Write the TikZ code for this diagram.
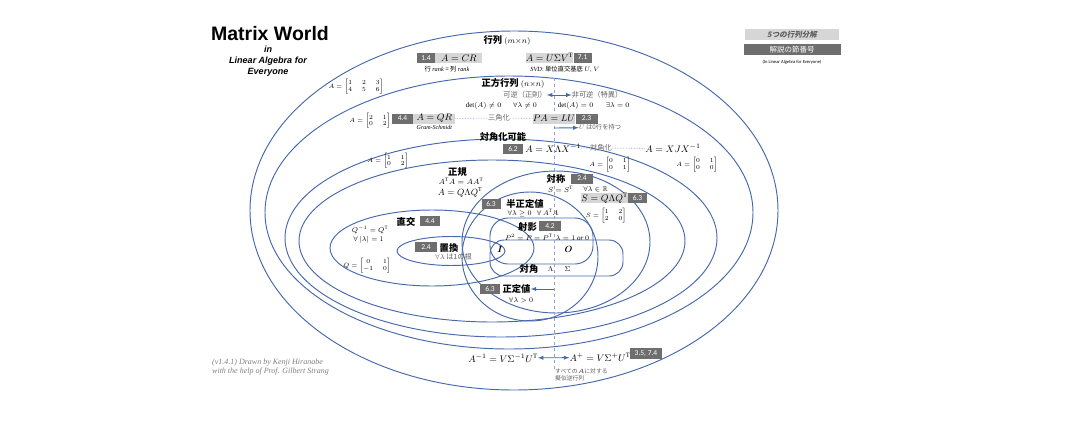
\RequirePackage{fix-cm}
\documentclass[tikz,border=0pt]{standalone}
\usepackage{amsmath}
\usepackage{amssymb}
\usepackage{fontspec}
\setmainfont{Liberation Serif}
\setsansfont{Carlito}
\newfontfamily\cjk{Noto Sans CJK JP}
\newfontfamily\cjkslant[FakeSlant=0.2]{Noto Sans CJK JP}
\newfontfamily\titlefont{Liberation Sans}
\usepackage{tikz}
\usetikzlibrary{positioning,calc}

\definecolor{zoneblue}{RGB}{72,104,172}
\definecolor{numgray}{RGB}{110,110,110}
\definecolor{eqgray}{RGB}{214,214,214}
\definecolor{notegray}{RGB}{95,95,95}

\begin{document}
\begin{tikzpicture}[x=1pt, y=-1pt,
  zone/.style={draw=zoneblue, line width=0.95pt},
  numbox/.style={fill=numgray, text=white, font=\sffamily\fontsize{7.5}{8}\selectfont, inner sep=0pt, minimum width=19pt, minimum height=10pt},
  eqbox/.style={fill=eqgray, inner sep=0pt, minimum height=10pt, font=\fontsize{9.5}{10}\selectfont},
  ttl/.style={font=\cjk\bfseries\fontsize{9.3}{10}\selectfont, inner sep=0pt},
  note/.style={font=\cjk\fontsize{7.2}{8}\selectfont, text=notegray, inner sep=0pt},
  mth/.style={font=\fontsize{7}{8}\selectfont, inner sep=0pt},
  bigmth/.style={font=\fontsize{9.5}{10}\selectfont, inner sep=0pt},
  dotline/.style={zoneblue!70, densely dotted, line width=0.6pt},
  divline/.style={zoneblue!60, dashed, line width=0.5pt},
  link/.style={zoneblue, line width=0.9pt}]
\useasboundingbox (0,0) rectangle (1080,426);

% nested zones
\draw[zone] (514,210.5) ellipse [x radius=264pt, y radius=179.5pt];
\draw[zone] (509,212.5) ellipse [x radius=244pt, y radius=136.5pt];
\draw[zone] (501,238) ellipse [x radius=216pt, y radius=99pt];
\draw[zone] (492,241) ellipse [x radius=193pt, y radius=81pt];
\draw[zone] (556,242) ellipse [x radius=94pt, y radius=71pt];
\draw[zone] (530,256.5) ellipse [x radius=68pt, y radius=64.5pt];
\draw[zone] (432,248) ellipse [x radius=102pt, y radius=38pt];
\draw[zone] (451,251) ellipse [x radius=54pt, y radius=14.5pt];
\draw[zone, rounded corners=18pt] (490,218) rectangle (593,264);
\draw[zone, rounded corners=14pt] (490,240) rectangle (623,276);

% invertible / singular divider
\coordinate (divtop) at (554,78);
\coordinate (divbot) at (554,370);
\draw[divline] (divtop) -- (divbot);

% title and legend
\node[font=\titlefont\bfseries\fontsize{19.5}{20}\selectfont, inner sep=0pt] (title) at (270,34) {Matrix World};
\node[font=\titlefont\bfseries\itshape\fontsize{9}{11}\selectfont, align=center, inner sep=0pt] (subtitle) at (268,61) {in\\Linear Algebra for\\Everyone};
\node[fill=eqgray, minimum width=94pt, minimum height=11pt, inner sep=0pt, font=\cjkslant\bfseries\fontsize{7.5}{8}\selectfont, text=notegray] (legA) at (792,34.5) {5つの行列分解};
\node[numbox, minimum width=97pt, minimum height=11pt, font=\cjk\fontsize{7.5}{8}\selectfont, below=3.5pt of legA] (legB) {解説の節番号};
\node[font=\sffamily\fontsize{4.6}{5}\selectfont, inner sep=0pt, below=5pt of legB] (legC) {(In Linear Algebra for Everyone)};

% all matrices
\node[ttl] (mat) at (507,41) {行列 {\fontsize{8}{8}\selectfont$(m{\times}n)$}};
\node[numbox, minimum width=18pt] (n14) at (426,58) {1.4};
\node[eqbox, minimum width=47pt, right=0pt of n14] (eqCR) {$A = CR$};
\node[note, text=black, font=\cjk\fontsize{6.3}{7}\selectfont] (rank) at (447,69.5) {行 $\mathit{rank}$ = 列 $\mathit{rank}$};
\node[eqbox, minimum width=45pt] (eqSVD) at (549.5,57.5) {$A = U\Sigma V^{\mathrm{T}}$};
\node[numbox, minimum width=18pt, right=0pt of eqSVD] (n71) {7.1};
\node[note, text=black, font=\cjk\fontsize{6.3}{7}\selectfont] (svd) at (565,69.5) {{\rmfamily\itshape SVD}: 単位直交基底 $U,V$};
\node[mth, font=\fontsize{6.2}{6.6}\selectfont] (m23) at (356,86.5) {$A=\begin{bmatrix}1&2&3\\4&5&6\end{bmatrix}$};

% square matrices
\node[ttl] (sq) at (513,83.5) {正方行列 {\fontsize{8}{8}\selectfont$(n{\times}n)$}};
\node[note] (inv) at (525,95) {可逆（正則）};
\node[note] (sing) at (597,95) {非可逆（特異）};
\draw[link, latex-latex] (inv) -- (sing);
\node[mth] (detn) at (483.5,105.5) {$\det(A)\neq0$};
\node[mth] (lamn) at (525,105.5) {$\forall\lambda\neq0$};
\node[mth] (detz) at (575.5,105.5) {$\det(A)=0$};
\node[mth] (lamz) at (617.5,105.5) {$\exists\lambda=0$};
\node[numbox, minimum width=21pt] (n44a) at (402.5,118.5) {4.4};
\node[eqbox, minimum width=42pt, right=0pt of n44a] (eqQR) {$A = QR$};
\node[mth, font=\rmfamily\itshape\fontsize{6}{7}\selectfont, below=1.5pt of eqQR] (gram) {Gram-Schmidt};
\node[note] (tri) at (499,118) {三角化};
\node[eqbox, minimum width=40pt] (eqLU) at (554,118.5) {$PA = LU$};
\node[numbox, minimum width=22pt, right=0pt of eqLU] (n23) {2.3};
\draw[dotline] (eqQR) -- (tri);
\draw[dotline] (tri) -- (eqLU);
\node[mth, font=\fontsize{6.2}{6.6}\selectfont] (m2102) at (370,121) {$A=\begin{bmatrix}2&1\\0&2\end{bmatrix}$};
\coordinate (zrowtail) at (554,128);
\node[note, font=\cjk\fontsize{6.3}{7}\selectfont] (zrow) at (600,127.5) {$U$ は0行を持つ};
\draw[link, -latex] (zrowtail) -- (zrow);

% diagonalizable
\node[ttl] (dgz) at (503,137) {対角化可能};
\node[numbox, minimum width=20pt] (n62) at (513,148.5) {6.2};
\node[bigmth, right=2pt of n62] (eqXLX) {$A = X\Lambda X^{-1}$};
\node[note] (dgzn) at (601,148) {対角化};
\node[bigmth] (eqXJX) at (673,148.5) {$A = XJX^{-1}$};
\draw[dotline] (eqXLX) -- (dgzn);
\draw[dotline] (dgzn) -- (eqXJX);
\node[mth, font=\fontsize{6.2}{6.6}\selectfont] (m1102) at (388,161) {$A=\begin{bmatrix}1&1\\0&2\end{bmatrix}$};
\node[mth, font=\fontsize{6.2}{6.6}\selectfont] (m0101) at (610,164.5) {$A=\begin{bmatrix}0&1\\0&1\end{bmatrix}$};
\node[mth, font=\fontsize{6.2}{6.6}\selectfont] (m0100) at (697,164.5) {$A=\begin{bmatrix}0&1\\0&0\end{bmatrix}$};

% normal
\node[ttl] (nrm) at (457.5,172) {正規};
\node[mth, font=\fontsize{7.5}{8}\selectfont] (nrmeq) at (461,181.5) {$A^{\mathrm{T}}A = AA^{\mathrm{T}}$};
\node[mth, font=\fontsize{9}{10}\selectfont] (nrmQ) at (460,192.5) {$A = Q\Lambda Q^{\mathrm{T}}$};

% symmetric
\node[ttl] (sym) at (556,179) {対称};
\node[numbox, minimum width=22pt] (n24a) at (582,178.5) {2.4};
\node[mth] (symeq) at (560.5,189) {$S = S^{\mathrm{T}}$};
\node[mth] (symlam) at (595.5,189) {$\forall\lambda\in\mathbb{R}$};
\node[eqbox, minimum width=45pt] (eqQLQ) at (604.5,198) {$S = Q\Lambda Q^{\mathrm{T}}$};
\node[numbox, right=0pt of eqQLQ] (n63a) {6.3};
\node[mth, font=\fontsize{6.2}{6.6}\selectfont] (m1220) at (606,215.5) {$S=\begin{bmatrix}1&2\\2&0\end{bmatrix}$};

% positive semidefinite
\node[numbox] (n63b) at (491,203.5) {6.3};
\node[ttl] (psd) at (525,204) {半正定値};
\node[mth] (psdeq) at (533,213) {$\forall\lambda\geq0\ \ \ \forall\,A^{\mathrm{T}}A$};

% orthogonal and permutation
\node[ttl] (orth) at (406,221.5) {直交};
\node[numbox, minimum width=20pt] (n44b) at (430,221) {4.4};
\node[mth] (orthinv) at (370,230) {$Q^{-1} = Q^{\mathrm{T}}$};
\node[mth] (orthlam) at (368.5,240) {$\forall\ |\lambda| = 1$};
\node[mth, font=\fontsize{6.2}{6.6}\selectfont] (m0110) at (367,265.5) {$Q=\begin{bmatrix}0&1\\-1&0\end{bmatrix}$};
\node[numbox, minimum width=22pt] (n24b) at (426,247) {2.4};
\node[ttl] (perm) at (449,247.5) {置換};
\node[note] (permlam) at (453.5,257) {$\forall\lambda$ は1の根};

% projection and diagonal
\node[ttl] (proj) at (527.5,226.5) {射影};
\node[numbox, minimum width=22pt] (n42) at (550,226) {4.2};
\node[mth] (projeq) at (547,237) {$P^2 = P = P^{\mathrm{T}}\ \ \lambda = 1\ \mathit{or}\ 0$};
\node[mth, font=\fontsize{9}{10}\selectfont] (iden) at (500,249) {$\boldsymbol{I}$};
\node[mth, font=\fontsize{9}{10}\selectfont] (zero) at (568.5,249) {$\boldsymbol{O}$};
\node[ttl] (dgl) at (529,269) {対角};
\node[mth] (dlam) at (550.5,269) {$\Lambda$};
\node[mth] (dsig) at (567.5,269) {$\Sigma$};

% positive definite
\node[numbox, minimum width=20pt] (n63c) at (490,289) {6.3};
\node[ttl] (pd) at (516.5,289) {正定値};
\node[mth] (pdeq) at (521,300) {$\forall\lambda>0$};
\coordinate (pdtail) at (554,289);
\draw[link, -latex] (pdtail) -- (pd);

% inverse and pseudo inverse
\node[bigmth] (pinv1) at (503,358) {$A^{-1} = V\Sigma^{-1}U^{\mathrm{T}}$};
\node[bigmth] (pinv2) at (600,357.5) {$A^{+} = V\Sigma^{+}U^{\mathrm{T}}$};
\draw[link, latex-latex] (pinv1) -- (pinv2);
\node[numbox, minimum width=32pt, minimum height=11pt] (n35) at (646,353.5) {3.5, 7.4};
\node[note, font=\cjk\fontsize{5.8}{7.5}\selectfont, align=left, anchor=north west] (pinvnote) at (555,368) {すべての$\boldsymbol{A}$に対する\\擬似逆行列};

% credits
\node[font=\rmfamily\itshape\fontsize{8}{9}\selectfont, text=gray, align=left, anchor=west, inner sep=0pt] (credit) at (212,367) {(v1.4.1) Drawn by Kenji Hiranabe\\with the help of Prof. Gilbert Strang};
\end{tikzpicture}
\end{document}
